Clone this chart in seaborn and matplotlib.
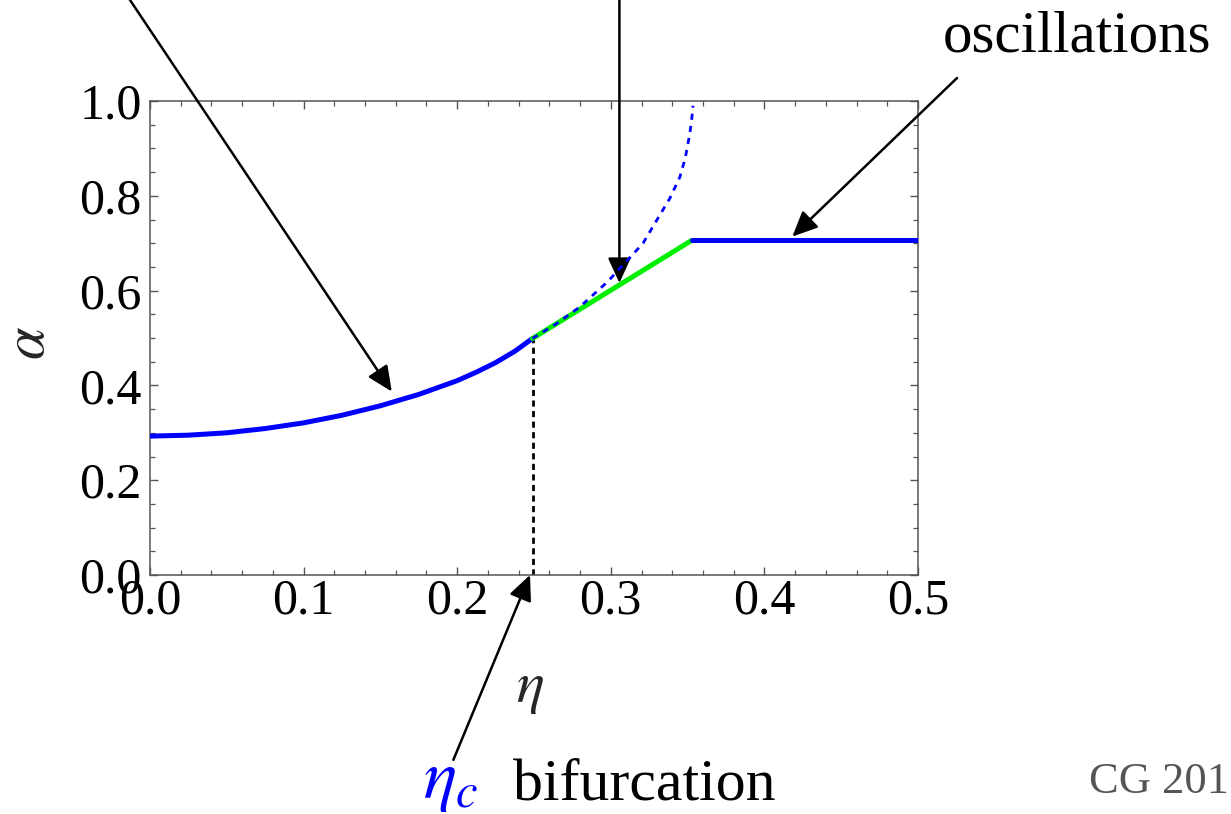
import matplotlib
matplotlib.use("Agg")
import matplotlib.pyplot as plt
from matplotlib.ticker import MultipleLocator
from matplotlib.patches import ArrowStyle
import seaborn as sns
import pandas as pd

# ---- data ----
eta_stable = [0.0, 0.025, 0.05, 0.075, 0.1, 0.125, 0.15, 0.175, 0.2, 0.2125,
              0.225, 0.2375, 0.249]
alpha_stable = [0.293, 0.295, 0.300, 0.309, 0.321, 0.337, 0.357, 0.381, 0.410,
                0.428, 0.448, 0.472, 0.499]

eta_unstable = [0.249, 0.265, 0.280, 0.298, 0.310, 0.321, 0.330, 0.3385, 0.345,
                0.3485, 0.3511, 0.3525, 0.3535]
alpha_unstable = [0.499, 0.531, 0.566, 0.619, 0.661, 0.700, 0.749, 0.795, 0.840,
                  0.880, 0.925, 0.955, 0.99]

eta_green = [0.249, 0.3527]
alpha_green = [0.499, 0.706]

eta_osc = [0.3527, 0.5]
alpha_osc = [0.706, 0.706]

eta_c = 0.2495
x_ticks = [0.0, 0.1, 0.2, 0.3, 0.4, 0.5]
y_ticks = [0.0, 0.2, 0.4, 0.6, 0.8, 1.0]

sns.set_theme(style="ticks")
plt.rcParams["font.family"] = ["Liberation Serif", "DejaVu Serif"]
plt.rcParams["mathtext.fontset"] = "stix"

fig = plt.figure(figsize=(12.31, 8.14), dpi=100)
ax = fig.add_axes([150 / 1231, 1 - 575 / 814, 768 / 1231, 474 / 814])

BLUE = "#0000ff"
GREEN = "#00f000"

df_s = pd.DataFrame({"eta": eta_stable, "alpha": alpha_stable})
df_u = pd.DataFrame({"eta": eta_unstable, "alpha": alpha_unstable})
df_g = pd.DataFrame({"eta": eta_green, "alpha": alpha_green})
df_o = pd.DataFrame({"eta": eta_osc, "alpha": alpha_osc})
df_v = pd.DataFrame({"eta": [eta_c, eta_c], "alpha": [0.0, alpha_stable[-1]]})

sns.lineplot(data=df_v, x="eta", y="alpha", ax=ax, color="black", lw=2.0,
             linestyle=(0, (2.2, 1.6)), estimator=None, sort=False, zorder=2)
sns.lineplot(data=df_s, x="eta", y="alpha", ax=ax, color=BLUE, lw=3.6,
             estimator=None, sort=False, zorder=3)
sns.lineplot(data=df_g, x="eta", y="alpha", ax=ax, color=GREEN, lw=3.6,
             estimator=None, sort=False, zorder=3)
sns.lineplot(data=df_u, x="eta", y="alpha", ax=ax, color=BLUE, lw=2.0,
             linestyle=(0, (2.2, 2.2)), estimator=None, sort=False, zorder=4)
sns.lineplot(data=df_o, x="eta", y="alpha", ax=ax, color=BLUE, lw=3.6,
             estimator=None, sort=False, zorder=3)

ax.set_xlim(0, 0.5)
ax.set_ylim(0, 1.0)
ax.set_xticks(x_ticks)
ax.set_yticks(y_ticks)
ax.set_xticklabels(["0.0", "0.1", "0.2", "0.3", "0.4", "0.5"])
ax.set_yticklabels(["0.0", "0.2", "0.4", "0.6", "0.8", "1.0"])
ax.xaxis.set_minor_locator(MultipleLocator(0.02))
ax.yaxis.set_minor_locator(MultipleLocator(0.05))
ax.tick_params(which="both", direction="in", top=True, right=True,
               color="#555555", labelcolor="black")
ax.tick_params(which="major", length=6, width=1.0, labelsize=36)
ax.tick_params(which="minor", length=3.5, width=0.9)
ax.tick_params(axis="x", which="major", pad=2)
ax.tick_params(axis="y", which="major", pad=6)
for s in ax.spines.values():
    s.set_color("#555555")
    s.set_linewidth(1.1)
    s.set_visible(True)

ax.set_xlabel(r"$\eta$", fontsize=42)
ax.set_ylabel(r"$\alpha$", fontsize=42)
ax.xaxis.set_label_coords(0.495, -0.243)
ax.xaxis.label.set_va("center")
ax.yaxis.set_label_coords(-0.156, 0.49)
ax.yaxis.label.set_va("center")

astyle = ArrowStyle("-|>", head_length=0.7, head_width=0.32)
def arrow(head, tail):
    ax.annotate("", xy=head, xytext=tail, xycoords="data", textcoords="data",
                annotation_clip=False,
                arrowprops=dict(arrowstyle=astyle, color="black", lw=1.8,
                                mutation_scale=22, shrinkA=0, shrinkB=0))

arrow((0.1574, 0.387), (-0.026, 1.276))
arrow((0.3056, 0.616), (0.3056, 1.255))
arrow((0.4182, 0.714), (0.5254, 1.0485))
arrow((0.2474, 0.0), (0.1975, -0.390))

fig.text(943 / 1231, 1 - 52 / 814, "oscillations", fontsize=42.5,
         ha="left", va="baseline", color="black")
fig.text(423 / 1231, 1 - 798 / 814, r"$\eta_c$", fontsize=50,
         ha="left", va="baseline", color=BLUE)
fig.text(513 / 1231, 1 - 800 / 814, "bifurcation", fontsize=43,
         ha="left", va="baseline", color="black")
fig.text(1089 / 1231, 1 - 793 / 814, "CG 201", fontsize=32,
         ha="left", va="baseline", color="#555555")

fig.savefig("out.png", dpi=100, facecolor="white")
